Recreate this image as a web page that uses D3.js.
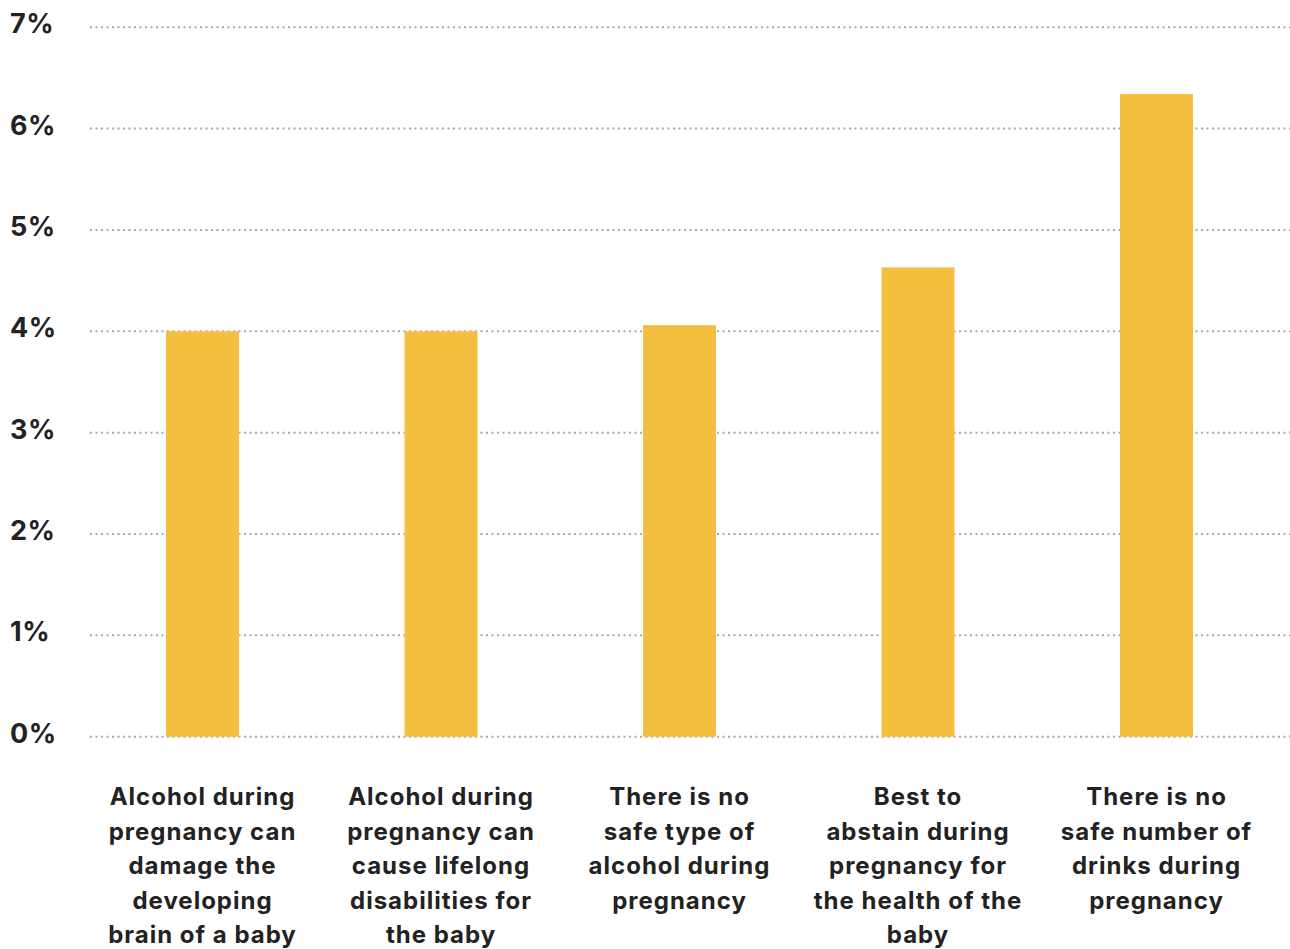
<!DOCTYPE html>
<html><head><meta charset="utf-8">
<script src="https://cdn.jsdelivr.net/npm/d3@7"></script>
<style>body{margin:0;background:#fff}svg{display:block}</style>
</head><body>
<svg id="c" width="1290" height="949"></svg>
<script>
const categories = [
  ["Alcohol during","pregnancy can","damage the","developing","brain of a baby"],
  ["Alcohol during","pregnancy can","cause lifelong","disabilities for","the baby"],
  ["There is no","safe type of","alcohol during","pregnancy"],
  ["Best to","abstain during","pregnancy for","the health of the","baby"],
  ["There is no","safe number of","drinks during","pregnancy"]
];
const values = [4.0, 4.0, 4.06, 4.63, 6.34];
const yTicks = [0,1,2,3,4,5,6,7];

const svg = d3.select("#c");
const font = "Inter, 'Open Sans', sans-serif";
const y = d3.scaleLinear().domain([0,7]).range([736.7, 27.2]);
const x = d3.scaleBand().domain(d3.range(values.length)).range([83.25, 1275.75]).paddingInner(0.694).paddingOuter(0.347);

// gridlines
svg.append("g").selectAll("line").data(yTicks).join("line")
  .attr("x1", 90).attr("x2", 1290)
  .attr("y1", d => y(d)).attr("y2", d => y(d))
  .attr("stroke", "#a8a8a8").attr("stroke-width", 2)
  .attr("stroke-dasharray", "2,3.5");

// y labels
svg.append("g").selectAll("text").data(yTicks).join("text")
  .attr("x", 10).attr("y", d => y(d) + 6)
  .attr("font-family", font).attr("font-weight", 700).attr("font-size", 27)
  .attr("letter-spacing", 0.5)
  .attr("fill", "#222")
  .text(d => d + "%");

// bars
svg.append("g").selectAll("rect").data(values).join("rect")
  .attr("x", (d,i) => x(i)).attr("width", x.bandwidth())
  .attr("y", d => y(d)).attr("height", d => y(0) - y(d))
  .attr("fill", "#F4BE3E");

// category labels
const lab = svg.append("g").selectAll("text").data(categories).join("text")
  .attr("x", (d,i) => x(i) + x.bandwidth()/2)
  .attr("y", 805)
  .attr("text-anchor", "middle")
  .attr("font-family", font).attr("font-weight", 700).attr("font-size", 24)
  .attr("letter-spacing", 1)
  .attr("fill", "#222");
lab.selectAll("tspan").data(d => d).join("tspan")
  .attr("x", function(){ return this.parentNode.getAttribute("x"); })
  .attr("dy", (d,i) => i === 0 ? 0 : 34.5)
  .text(d => d);
</script>
</body></html>
